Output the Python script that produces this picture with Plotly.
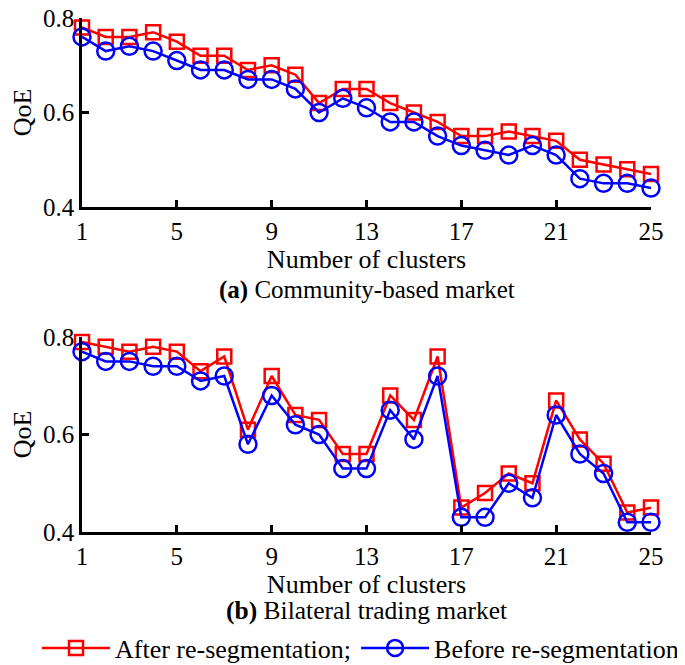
import plotly.graph_objects as go
from plotly.subplots import make_subplots

clusters = list(range(1, 26))
tick_vals = [1, 5, 9, 13, 17, 21, 25]
y_ticks = [0.4, 0.6, 0.8]

comm_after = [0.78, 0.76, 0.76, 0.77, 0.75, 0.72, 0.72, 0.69, 0.70, 0.68, 0.62, 0.65, 0.65,
              0.62, 0.60, 0.58, 0.55, 0.55, 0.56, 0.55, 0.54, 0.50, 0.49, 0.48, 0.47]
comm_before = [0.76, 0.73, 0.74, 0.73, 0.71, 0.69, 0.69, 0.67, 0.67, 0.65, 0.60, 0.63, 0.61,
               0.58, 0.58, 0.55, 0.53, 0.52, 0.51, 0.53, 0.51, 0.46, 0.45, 0.45, 0.44]
bil_after = [0.79, 0.78, 0.77, 0.78, 0.77, 0.73, 0.76, 0.61, 0.72, 0.64, 0.63, 0.56, 0.56,
             0.68, 0.63, 0.76, 0.45, 0.48, 0.52, 0.50, 0.67, 0.59, 0.54, 0.44, 0.45]
bil_before = [0.77, 0.75, 0.75, 0.74, 0.74, 0.71, 0.72, 0.58, 0.68, 0.62, 0.60, 0.53, 0.53,
              0.65, 0.59, 0.72, 0.43, 0.43, 0.50, 0.47, 0.64, 0.56, 0.52, 0.42, 0.42]

names = ["After re-segmentation;", "Before re-segmentation"]
RED = "#ff0000"
BLUE = "#0000ff"
FONT = "Liberation Serif"
FS = 25
TFS = 26

fig = make_subplots(rows=2, cols=1)

def add_pair(after, before, row, show):
    fig.add_trace(go.Scatter(x=clusters, y=after, mode="lines+markers", name=names[0],
                             line=dict(color=RED, width=2.5),
                             marker=dict(symbol="square-open", size=14, color=RED, line=dict(width=2.5)),
                             cliponaxis=False, showlegend=show), row=row, col=1)
    fig.add_trace(go.Scatter(x=clusters, y=before, mode="lines+markers", name=names[1],
                             line=dict(color=BLUE, width=2.5),
                             marker=dict(symbol="circle-open", size=17, color=BLUE, line=dict(width=2.5)),
                             cliponaxis=False, showlegend=show), row=row, col=1)

add_pair(comm_after, comm_before, 1, True)
add_pair(bil_after, bil_before, 2, False)

# page body has an 8px margin, so the figure is drawn from (8, 8)
OFF = 8
W, H = 685 - OFF, 665 - OFF

def px(x):
    return (x - OFF) / W

def py(y):
    return 1 - (y - OFF) / H

xd = [px(82), px(651)]
axis_common = dict(showline=True, linecolor="black", linewidth=2.5, ticks="inside",
                   ticklen=7, tickwidth=2.5, tickcolor="black", showgrid=False, zeroline=False,
                   automargin=False, ticklabeloverflow="allow",
                   tickfont=dict(family=FONT, size=FS, color="black"))
xtitle = dict(text="Number of clusters", standoff=2, font=dict(family=FONT, size=TFS))
ytitle = dict(text="QoE", standoff=23, font=dict(family=FONT, size=TFS))

fig.update_layout(
    width=W, height=H, margin=dict(l=0, r=0, t=0, b=0, autoexpand=False),
    paper_bgcolor="white", plot_bgcolor="white",
    font=dict(family=FONT, size=FS, color="black"),
    xaxis=dict(domain=xd, range=[1, 25], tickvals=tick_vals, anchor="y", title=xtitle, **axis_common),
    yaxis=dict(domain=[py(207), py(18)], range=[0.4, 0.8], tickvals=y_ticks,
               tickformat=".1f", anchor="x", title=ytitle, **axis_common),
    xaxis2=dict(domain=xd, range=[1, 25], tickvals=tick_vals, anchor="y2", title=xtitle, **axis_common),
    yaxis2=dict(domain=[py(532), py(337)], range=[0.4, 0.8], tickvals=y_ticks,
                tickformat=".1f", anchor="x2", title=ytitle, **axis_common),
    legend=dict(orientation="h", x=px(37), xanchor="left", y=py(648), yanchor="middle",
                font=dict(family=FONT, size=26), itemwidth=68, bgcolor="rgba(0,0,0,0)",
                tracegroupgap=0),
    annotations=[
        dict(text="<b>(a)</b> Community-based market", x=(xd[0] + xd[1]) / 2, y=py(290),
             xref="paper", yref="paper", showarrow=False, xanchor="center", yanchor="middle",
             font=dict(family=FONT, size=FS)),
        dict(text="<b>(b)</b> Bilateral trading market", x=(xd[0] + xd[1]) / 2, y=py(610),
             xref="paper", yref="paper", showarrow=False, xanchor="center", yanchor="middle",
             font=dict(family=FONT, size=25.5)),
    ],
)

fig.write_html("out.html")
